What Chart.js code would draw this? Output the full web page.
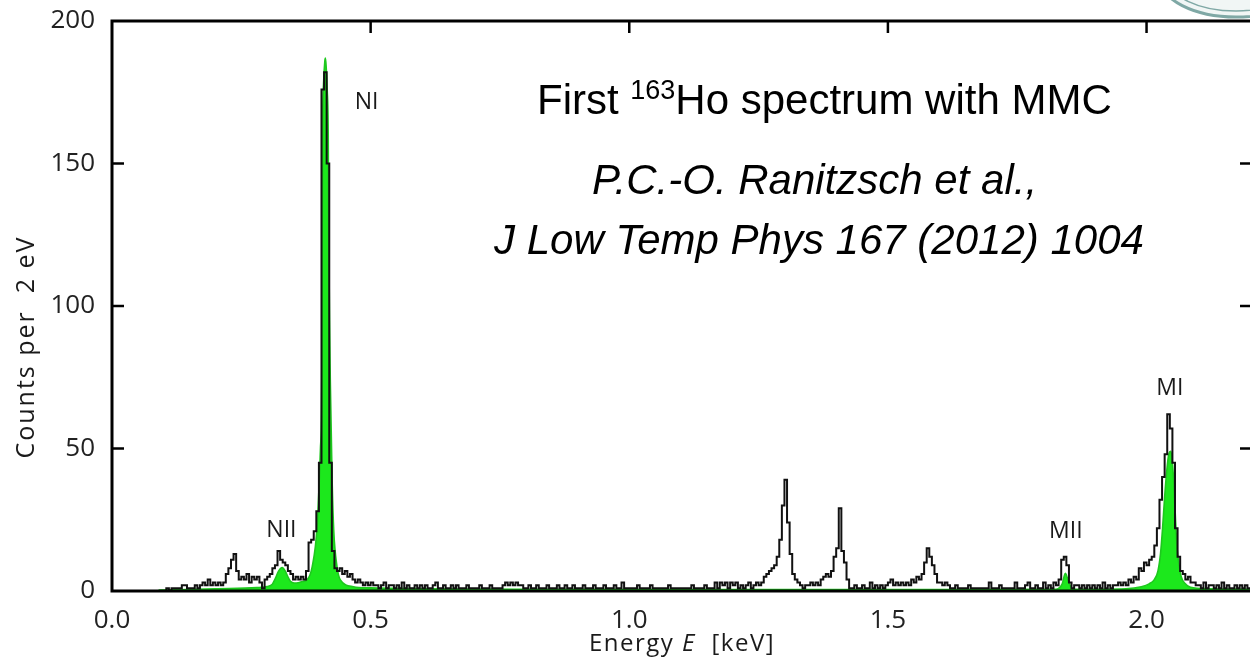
<!DOCTYPE html>
<html>
<head>
<meta charset="utf-8">
<script src="https://cdn.jsdelivr.net/npm/chart.js@4.4.1/dist/chart.umd.min.js"></script>
<style>
  html, body { margin: 0; padding: 0; background: #fff; }
  #wrap { width: 1250px; height: 668px; position: relative; }
</style>
</head>
<body>
<div id="wrap"><canvas id="myChart"></canvas></div>
<script>
// histogram: counts per bin, bins are 5 eV wide starting at 0.100 keV
// one array per 0.1 keV (20 bins each)
var binStart = 0.1;
var binWidth = 0.005;
var counts_0_1 = [0,1,0,1,1,1,1,2,2,1, 1,1,2,1,2,3,2,4,2,3];
var counts_0_2 = [2,3,2,3,6,8,11,13,7,4, 5,4,6,3,5,4,5,3,1,4];
var counts_0_3 = [5,6,8,9,14,11,10,9,7,6, 4,5,4,5,4,7,17,18,21,28];
var counts_0_4 = [45,176,182,150,45,14,8,7,8,6, 7,5,6,4,3,4,3,2,3,2];
var counts_0_5 = [3,2,2,1,2,3,1,2,2,1, 2,1,3,1,2,1,1,2,1,2];
var counts_0_6 = [1,2,1,1,2,3,1,1,2,1, 1,2,1,2,1,1,1,2,1,1];
var counts_0_7 = [1,1,2,1,1,1,2,1,1,1, 1,2,3,2,3,2,3,2,2,1];
var counts_0_8 = [1,2,1,1,2,1,1,1,2,1, 1,1,2,1,1,2,1,1,2,1];
var counts_0_9 = [1,1,2,1,1,1,2,1,1,1, 2,1,1,1,2,1,1,3,1,1];
var counts_1_0 = [1,1,1,2,1,1,1,1,2,1, 1,1,1,1,1,2,1,1,1,1];
var counts_1_1 = [1,1,1,1,2,1,1,1,1,2, 1,1,1,3,1,3,2,3,1,3];
var counts_1_2 = [2,3,1,2,1,2,3,1,2,3, 2,3,5,6,7,8,9,12,18,30];
var counts_1_3 = [39,24,13,6,4,3,2,1,2,2, 3,2,3,2,4,5,6,5,7,12];
var counts_1_4 = [15,29,14,10,4,1,1,2,1,1, 2,1,1,3,1,2,1,2,1,2];
var counts_1_5 = [3,4,2,3,2,3,2,3,2,4, 3,5,4,6,10,15,12,9,6,3];
var counts_1_6 = [3,2,3,2,1,1,2,1,1,1, 1,2,1,1,1,1,1,1,1,3];
var counts_1_7 = [1,1,1,2,1,1,1,1,1,3, 1,1,1,2,3,1,1,2,1,1];
var counts_1_8 = [3,1,2,1,3,2,4,11,12,9, 3,1,2,2,1,2,1,2,1,2];
var counts_1_9 = [1,2,1,3,1,2,1,2,2,3, 2,3,2,4,3,5,4,8,7,10];
var counts_2_0 = [9,11,12,16,22,32,40,48,62,57, 45,22,12,7,6,4,5,3,3,2];
var counts_2_1 = [2,1,3,1,2,2,1,2,1,3, 1,2,1,1,2,1,2,1,2,1];

// fitted line shape (green), energy in keV
var fitEnergy = [0.09, 0.20, 0.28, 0.30, 0.31, 0.316, 0.322, 0.329, 0.335, 0.340, 0.345, 0.352, 0.360, 0.368, 0.377, 0.387, 0.3965, 0.403, 0.4055, 0.4062, 0.407, 0.409, 0.4115, 0.4126, 0.414, 0.416, 0.418, 0.419, 0.4205, 0.422, 0.4255, 0.4286, 0.435, 0.4415, 0.4667, 0.50, 0.60, 0.80, 1.20, 1.60, 1.82, 1.829, 1.837, 1.843, 1.848, 1.856, 1.87, 1.96, 1.99, 2.005, 2.015, 2.022, 2.027, 2.031, 2.035, 2.039, 2.043, 2.047, 2.050, 2.053, 2.056, 2.059, 2.063, 2.067, 2.074, 2.085, 2.12, 2.2];
var fitCounts = [0.3, 0.8, 1.2, 1.6, 2.4, 4.5, 7, 8.2, 7, 5, 3.4, 2.8, 2.9, 3.3, 3.9, 8.5, 22.6, 50, 74, 120, 160, 178, 186, 187, 184, 176, 160, 125, 95, 74, 39, 21.4, 8.5, 3.9, 1.5, 1.1, 0.8, 0.6, 0.5, 0.5, 0.6, 0.8, 2.5, 6.2, 4, 0.8, 0.6, 0.8, 1.5, 2.5, 4, 7, 13, 22, 33, 42, 48, 49, 45, 37, 25, 15, 9, 5, 2.7, 1.3, 0.8, 0.6];

var xTickValues = [0, 0.5, 1.0, 1.5, 2.0];
var yTickValues = [0, 50, 100, 150, 200];

// peak labels: [text, energy, counts]
var peakLabels = [
  ["NI", 0.492, 171.5],
  ["NII", 0.3275, 21.4],
  ["MII", 1.844, 21],
  ["MI", 2.045, 71.2]
];

var counts = [].concat(counts_0_1, counts_0_2, counts_0_3, counts_0_4, counts_0_5,
  counts_0_6, counts_0_7, counts_0_8, counts_0_9, counts_1_0, counts_1_1, counts_1_2,
  counts_1_3, counts_1_4, counts_1_5, counts_1_6, counts_1_7, counts_1_8, counts_1_9,
  counts_2_0, counts_2_1);
var histPoints = counts.map(function (c, i) {
  return { x: +(binStart + i * binWidth).toFixed(3), y: c };
});
histPoints.push({ x: 2.2, y: counts[counts.length - 1] });
var fitPoints = fitEnergy.map(function (e, i) { return { x: e, y: fitCounts[i] }; });

function line(ctx, x1, y1, x2, y2) {
  ctx.beginPath(); ctx.moveTo(x1, y1); ctx.lineTo(x2, y2); ctx.stroke();
}

var decor = {
  id: "decor",
  beforeDraw: function (chart) {
    var ctx = chart.ctx;
    // slide logo remnant, top right
    ctx.save();
    ctx.fillStyle = "#f1f6f5";
    ctx.strokeStyle = "#7fa8a5";
    ctx.lineWidth = 3;
    ctx.beginPath(); ctx.ellipse(1236, -22, 76, 39, 0, 0, Math.PI * 2); ctx.fill(); ctx.stroke();
    ctx.lineWidth = 1.5;
    ctx.beginPath(); ctx.ellipse(1236, -22, 68, 33, 0, 0, Math.PI * 2); ctx.stroke();
    ctx.restore();
  },
  afterDraw: function (chart) {
    var ctx = chart.ctx, a = chart.chartArea, x = chart.scales.x, y = chart.scales.y;
    ctx.save();
    ctx.strokeStyle = "#000";
    ctx.lineWidth = 3;
    ctx.beginPath();
    ctx.moveTo(a.right + 4, a.top); ctx.lineTo(a.left, a.top);
    ctx.lineTo(a.left, a.bottom); ctx.lineTo(a.right + 4, a.bottom);
    ctx.stroke();
    ctx.lineWidth = 2.5;
    yTickValues.slice(1, -1).forEach(function (v) {
      var py = y.getPixelForValue(v);
      line(ctx, a.left, py, a.left + 12, py);
      line(ctx, a.right - 10, py, a.right + 2, py);
    });
    xTickValues.slice(1).forEach(function (v) {
      var px = x.getPixelForValue(v);
      line(ctx, px, a.top, px, a.top + 12);
    });

    // peak labels
    ctx.fillStyle = "#1a1a1a";
    ctx.font = "23px 'Open Sans'";
    ctx.textAlign = "center";
    ctx.textBaseline = "middle";
    peakLabels.forEach(function (p) {
      ctx.fillText(p[0], x.getPixelForValue(p[1]), y.getPixelForValue(p[2]));
    });

    // axis titles
    ctx.letterSpacing = "1.5px";
    ctx.font = "24px 'Open Sans'";
    var t1 = "Energy ", t2 = "E", t3 = "  [keV]";
    var w1 = ctx.measureText(t1).width, w3 = ctx.measureText(t3).width;
    ctx.font = "italic 24px 'Open Sans'";
    var w2 = ctx.measureText(t2).width;
    var sx = 682 - (w1 + w2 + w3) / 2;
    ctx.textAlign = "left";
    ctx.font = "24px 'Open Sans'";
    ctx.fillText(t1, sx, 644);
    ctx.font = "italic 24px 'Open Sans'";
    ctx.fillText(t2, sx + w1, 644);
    ctx.font = "24px 'Open Sans'";
    ctx.fillText(t3, sx + w1 + w2, 644);

    ctx.save();
    ctx.translate(27, 347);
    ctx.rotate(-Math.PI / 2);
    ctx.textAlign = "center";
    ctx.letterSpacing = "2px";
    ctx.font = "25px 'Open Sans'";
    ctx.fillText("Counts per  2 eV", 0, 0);
    ctx.restore();
    ctx.letterSpacing = "0px";

    // annotation block
    ctx.fillStyle = "#000";
    ctx.textAlign = "left";
    ctx.textBaseline = "alphabetic";
    var fx = 537, fy = 114;
    ctx.font = "42px 'Liberation Sans'";
    ctx.fillText("First ", fx, fy);
    fx += ctx.measureText("First ").width;
    ctx.font = "27px 'Liberation Sans'";
    ctx.fillText("163", fx, fy - 15);
    fx += ctx.measureText("163").width;
    ctx.font = "42px 'Liberation Sans'";
    ctx.fillText("Ho spectrum with MMC", fx, fy);

    ctx.font = "italic 42px 'Liberation Sans'";
    ctx.fillText("P.C.-O. Ranitzsch et al.,", 592, 194);
    ctx.fillText("J Low Temp Phys 167 (2012) 1004", 494, 254);
    ctx.restore();
  }
};

Chart.defaults.font.family = "'Open Sans'";
Chart.defaults.color = "#222";

var ctx = document.getElementById("myChart").getContext("2d");
var myChart = new Chart(ctx, {
  type: "line",
  data: {
    datasets: [
      {
        label: "Counts",
        data: histPoints,
        stepped: true,
        borderColor: "#111",
        borderWidth: 2,
        pointRadius: 0,
        fill: false,
        order: 0
      },
      {
        label: "Fit",
        data: fitPoints,
        cubicInterpolationMode: "monotone",
        borderColor: "rgb(30,200,30)",
        borderWidth: 1.6,
        backgroundColor: "rgb(28,232,28)",
        pointRadius: 0,
        fill: "origin",
        order: 1
      }
    ]
  },
  options: {
    responsive: true,
    maintainAspectRatio: false,
    animation: false,
    layout: { padding: { top: 21, right: 0, left: 0, bottom: 0 } },
    plugins: {
      legend: { display: false },
      tooltip: { enabled: false }
    },
    scales: {
      x: {
        type: "linear",
        min: 0,
        max: 2.2,
        grid: { display: false, drawTicks: false },
        border: { display: false },
        ticks: {
          stepSize: 0.5,
          includeBounds: false,
          padding: 14,
          font: { size: 26 },
          callback: function (v) { return v.toFixed(1); }
        },
        afterFit: function (s) { s.height = 77; s.paddingLeft = 0; s.paddingRight = 0; }
      },
      y: {
        min: 0,
        max: 200,
        grid: { display: false, drawTicks: false },
        border: { display: false },
        ticks: {
          stepSize: 50,
          padding: 17,
          font: { size: 26 }
        },
        afterFit: function (s) { s.width = 112; s.paddingTop = 0; s.paddingBottom = 0; }
      }
    }
  },
  plugins: [decor]
});
</script>
</body>
</html>
